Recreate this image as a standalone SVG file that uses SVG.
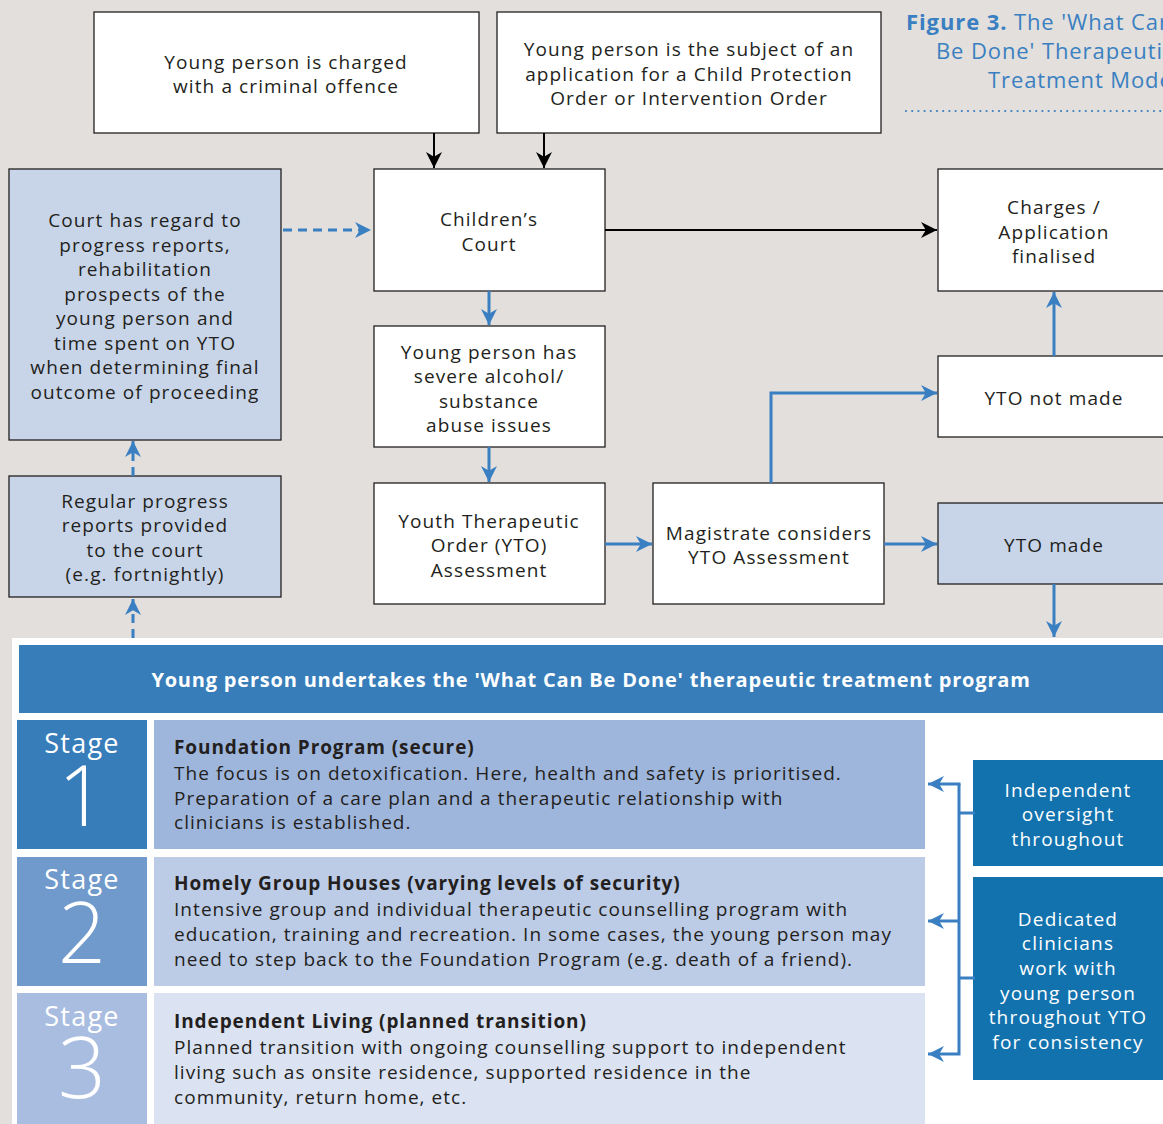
<svg xmlns="http://www.w3.org/2000/svg" width="1163" height="1124" viewBox="0 0 1163 1124">
<defs>
<style>
.bg{fill:#e2dfdc}
.box{fill:#ffffff;stroke:#231f20;stroke-width:1.3}
.lbox{fill:#c8d5e8;stroke:#231f20;stroke-width:1.3}
.t{font-family:"Open Sans","Liberation Sans",sans-serif;font-size:19px;letter-spacing:1.1px;fill:#231f20;text-anchor:middle}
.tw{font-family:"Open Sans","Liberation Sans",sans-serif;font-size:19px;letter-spacing:1.2px;fill:#ffffff;text-anchor:middle}
.st{font-family:"Open Sans","Liberation Sans",sans-serif;font-size:27px;letter-spacing:1.2px;fill:#ffffff;text-anchor:middle}
.num{font-family:"Open Sans","Liberation Sans",sans-serif;font-size:84px;font-weight:300;fill:#ffffff;text-anchor:middle}
.body{font-family:"Open Sans","Liberation Sans",sans-serif;font-size:19px;letter-spacing:1.05px;fill:#231f20}
.bh{font-weight:bold;letter-spacing:0.9px}
.blk{stroke:#000;stroke-width:2;fill:none}
.blu{stroke:#3a7fc1;stroke-width:3;fill:none}
.dash{stroke:#3a7fc1;stroke-width:3;fill:none;stroke-dasharray:9 6}
.title{font-family:"Open Sans","Liberation Sans",sans-serif;font-size:22px;letter-spacing:0.9px;fill:#3a7fc1}
</style>
<marker id="au" viewBox="0 0 10 10" refX="10" refY="5" markerWidth="16" markerHeight="16" orient="auto" markerUnits="userSpaceOnUse">
<path d="M0,0 L10,5 L0,10 L3,5 Z" fill="#3a7fc1"/>
</marker>
<marker id="ak" viewBox="0 0 10 10" refX="10" refY="5" markerWidth="16" markerHeight="16" orient="auto" markerUnits="userSpaceOnUse">
<path d="M0,0 L10,5 L0,10 L3,5 Z" fill="#000"/>
</marker>
</defs>
<rect class="bg" x="0" y="0" width="1163" height="1124"/>
<rect x="12" y="638" width="1151" height="486" fill="#ffffff"/>

<g id="title">
<text class="title" x="906" y="30"><tspan font-weight="bold">Figure 3.</tspan> The 'What Can</text>
<text class="title" x="936" y="59">Be Done' Therapeutic</text>
<text class="title" x="988" y="88">Treatment Model</text>
<line x1="906" y1="111" x2="1163" y2="111" stroke="#3a7fc1" stroke-width="2.2" stroke-linecap="round" stroke-dasharray="0 6.2"/>
</g>

<g id="n-charged">
<rect class="box" x="94" y="12" width="385" height="121"/>
<text class="t" x="286" y="69">Young person is charged</text>
<text class="t" x="286" y="93">with a criminal offence</text>
</g>
<g id="n-subject">
<rect class="box" x="497" y="12" width="384" height="121"/>
<text class="t" x="689" y="56">Young person is the subject of an</text>
<text class="t" x="689" y="81">application for a Child Protection</text>
<text class="t" x="689" y="105">Order or Intervention Order</text>
</g>
<g id="n-court">
<rect class="box" x="374" y="169" width="231" height="122"/>
<text class="t" x="489" y="226">Children’s</text>
<text class="t" x="489" y="251">Court</text>
</g>
<g id="n-finalised">
<rect class="box" x="938" y="169" width="230" height="122"/>
<text class="t" x="1054" y="214">Charges /</text>
<text class="t" x="1054" y="239">Application</text>
<text class="t" x="1054" y="263">finalised</text>
</g>
<g id="n-regard">
<rect class="lbox" x="9" y="169" width="272" height="271"/>
<text class="t" x="145" y="227">Court has regard to</text>
<text class="t" x="145" y="252">progress reports,</text>
<text class="t" x="145" y="276">rehabilitation</text>
<text class="t" x="145" y="301">prospects of the</text>
<text class="t" x="145" y="325">young person and</text>
<text class="t" x="145" y="350">time spent on YTO</text>
<text class="t" x="145" y="374">when determining final</text>
<text class="t" x="145" y="399">outcome of proceeding</text>
</g>
<g id="n-severe">
<rect class="box" x="374" y="326" width="231" height="121"/>
<text class="t" x="489" y="359">Young person has</text>
<text class="t" x="489" y="383">severe alcohol/</text>
<text class="t" x="489" y="408">substance</text>
<text class="t" x="489" y="432">abuse issues</text>
</g>
<g id="n-notmade">
<rect class="box" x="938" y="356" width="230" height="81"/>
<text class="t" x="1054" y="405">YTO not made</text>
</g>
<g id="n-reports">
<rect class="lbox" x="9" y="476" width="272" height="121"/>
<text class="t" x="145" y="508">Regular progress</text>
<text class="t" x="145" y="532">reports provided</text>
<text class="t" x="145" y="557">to the court</text>
<text class="t" x="145" y="581">(e.g. fortnightly)</text>
</g>
<g id="n-assessment">
<rect class="box" x="374" y="483" width="231" height="121"/>
<text class="t" x="489" y="528">Youth Therapeutic</text>
<text class="t" x="489" y="552">Order (YTO)</text>
<text class="t" x="489" y="577">Assessment</text>
</g>
<g id="n-magistrate">
<rect class="box" x="653" y="483" width="231" height="121"/>
<text class="t" x="769" y="540">Magistrate considers</text>
<text class="t" x="769" y="564">YTO Assessment</text>
</g>
<g id="n-made">
<rect class="lbox" x="938" y="503" width="230" height="81"/>
<text class="t" x="1054" y="552">YTO made</text>
</g>

<g id="n-program">
<rect x="19" y="645" width="1144" height="68" fill="#377dba"/>
<text x="591" y="687" font-family="'Open Sans','Liberation Sans',sans-serif" font-size="20" font-weight="bold" letter-spacing="0.8" fill="#ffffff" text-anchor="middle">Young person undertakes the 'What Can Be Done' therapeutic treatment program</text>
</g>

<g id="n-stage1">
<rect x="17" y="720" width="130" height="129" fill="#377dba"/>
<text class="st" x="82" y="753">Stage</text>
<text class="num" x="82" y="826">1</text>
<rect x="154" y="720" width="771" height="129" fill="#9fb6dc"/>
<text class="body bh" x="174" y="754">Foundation Program (secure)</text>
<text class="body" x="174" y="780">The focus is on detoxification. Here, health and safety is prioritised.</text>
<text class="body" x="174" y="805">Preparation of a care plan and a therapeutic relationship with</text>
<text class="body" x="174" y="829">clinicians is established.</text>
</g>
<g id="n-stage2">
<rect x="17" y="857" width="130" height="129" fill="#6f9acb"/>
<text class="st" x="82" y="889">Stage</text>
<text class="num" x="82" y="963">2</text>
<rect x="154" y="857" width="771" height="129" fill="#bccbe6"/>
<text class="body bh" x="174" y="890">Homely Group Houses (varying levels of security)</text>
<text class="body" x="174" y="916">Intensive group and individual therapeutic counselling program with</text>
<text class="body" x="174" y="941">education, training and recreation. In some cases, the young person may</text>
<text class="body" x="174" y="966">need to step back to the Foundation Program (e.g. death of a friend).</text>
</g>
<g id="n-stage3">
<rect x="17" y="993" width="130" height="131" fill="#a9bde0"/>
<text class="st" x="82" y="1026">Stage</text>
<text class="num" x="82" y="1098">3</text>
<rect x="154" y="993" width="771" height="131" fill="#dbe2f1"/>
<text class="body bh" x="174" y="1028">Independent Living (planned transition)</text>
<text class="body" x="174" y="1054">Planned transition with ongoing counselling support to independent</text>
<text class="body" x="174" y="1079">living such as onsite residence, supported residence in the</text>
<text class="body" x="174" y="1104">community, return home, etc.</text>
</g>
<g id="n-oversight">
<rect x="973" y="760" width="190" height="106" fill="#1272ae"/>
<text class="tw" x="1068" y="797">Independent</text>
<text class="tw" x="1068" y="821">oversight</text>
<text class="tw" x="1068" y="846">throughout</text>
</g>
<g id="n-clinicians">
<rect x="973" y="877" width="190" height="203" fill="#1272ae"/>
<text class="tw" x="1068" y="926">Dedicated</text>
<text class="tw" x="1068" y="950">clinicians</text>
<text class="tw" x="1068" y="975">work with</text>
<text class="tw" x="1068" y="1000">young person</text>
<text class="tw" x="1068" y="1024">throughout YTO</text>
<text class="tw" x="1068" y="1049">for consistency</text>
</g>

<g id="connectors">
<line class="blk" x1="434" y1="133" x2="434" y2="168" marker-end="url(#ak)"/>
<line class="blk" x1="544" y1="133" x2="544" y2="168" marker-end="url(#ak)"/>
<line class="blk" x1="605" y1="230" x2="937" y2="230" marker-end="url(#ak)"/>
<line class="dash" x1="283" y1="230" x2="371" y2="230" marker-end="url(#au)"/>
<line class="blu" x1="489" y1="291" x2="489" y2="325" marker-end="url(#au)"/>
<line class="blu" x1="489" y1="447" x2="489" y2="482" marker-end="url(#au)"/>
<line class="blu" x1="605" y1="544" x2="652" y2="544" marker-end="url(#au)"/>
<line class="blu" x1="884" y1="544" x2="937" y2="544" marker-end="url(#au)"/>
<polyline class="blu" points="771,483 771,393 937,393" marker-end="url(#au)"/>
<line class="blu" x1="1054" y1="356" x2="1054" y2="292" marker-end="url(#au)"/>
<line class="blu" x1="1054" y1="584" x2="1054" y2="637" marker-end="url(#au)"/>
<line class="dash" x1="133" y1="638" x2="133" y2="599" marker-end="url(#au)"/>
<line class="dash" x1="133" y1="476" x2="133" y2="441" marker-end="url(#au)"/>
<polyline class="blu" points="959,784 959,1054 928,1054" marker-end="url(#au)"/>
<line class="blu" x1="960.5" y1="784" x2="928" y2="784" marker-end="url(#au)"/>
<line class="blu" x1="959" y1="921" x2="928" y2="921" marker-end="url(#au)"/>
<line class="blu" x1="959" y1="813" x2="975" y2="813"/>
<line class="blu" x1="959" y1="978" x2="975" y2="978"/>
</g>
</svg>
